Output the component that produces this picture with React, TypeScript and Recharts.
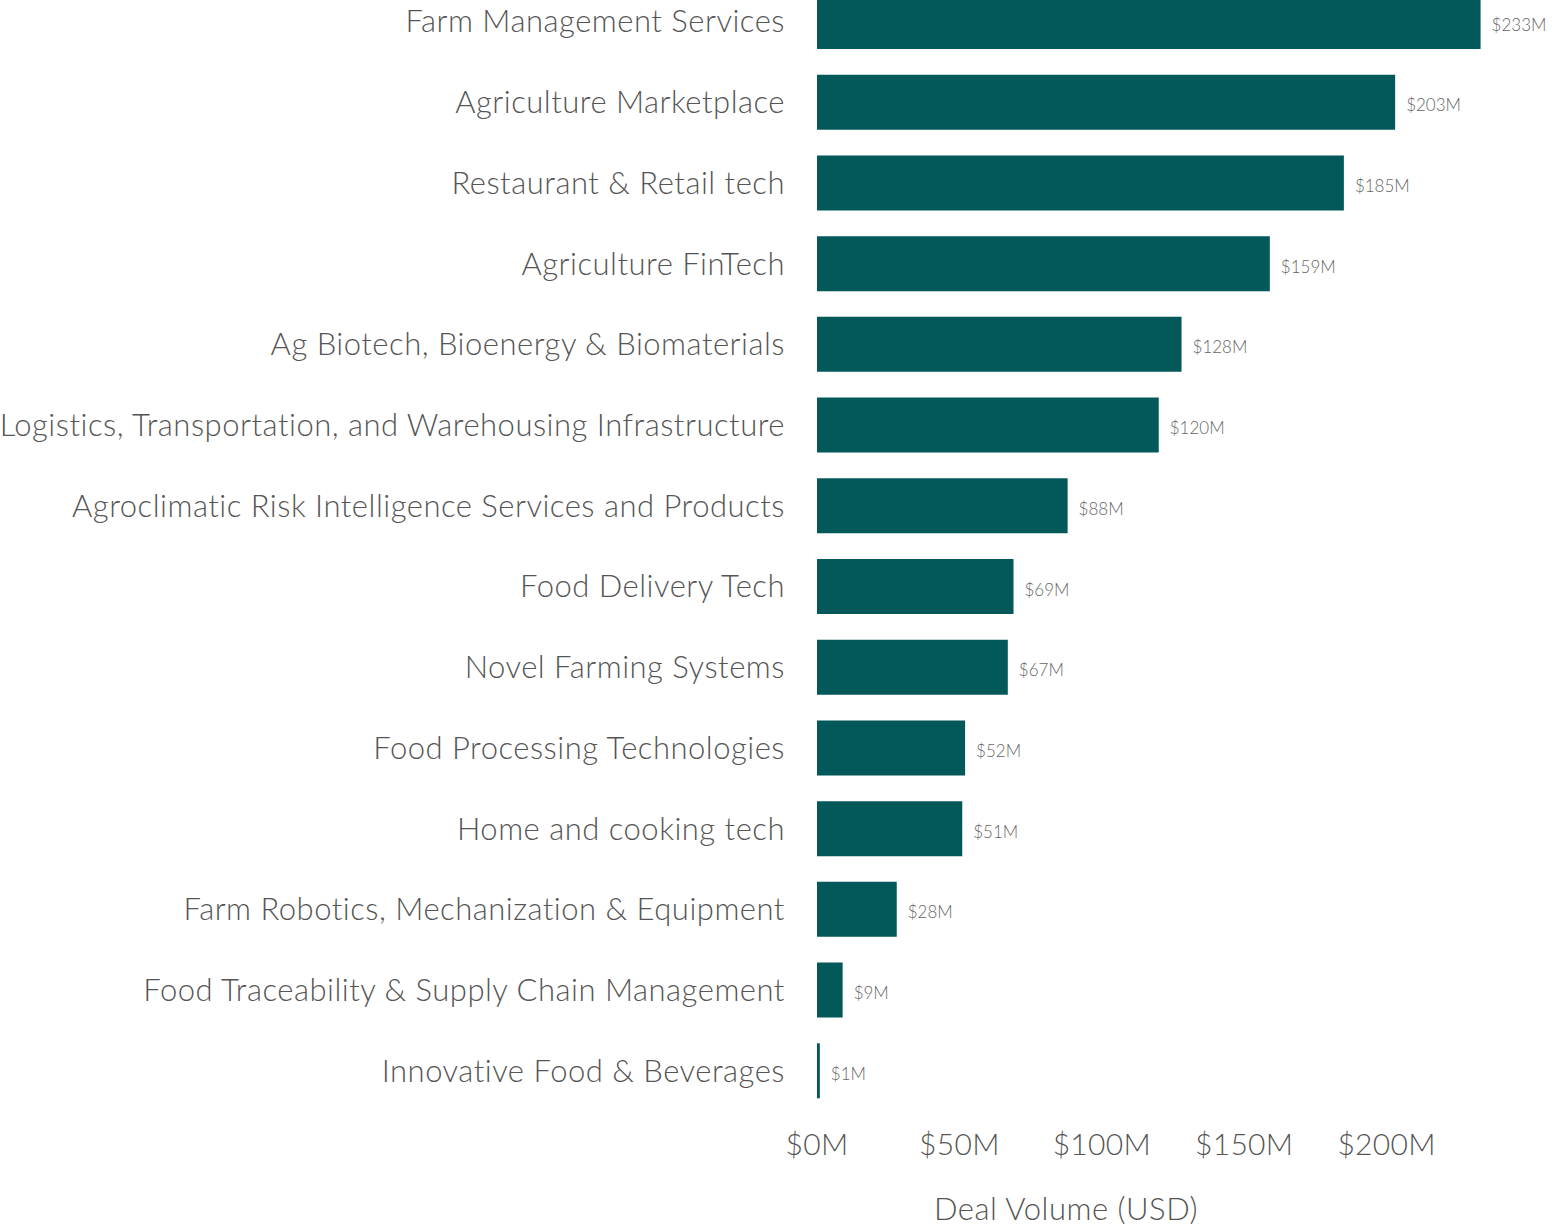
import { Bar, BarChart, LabelList, XAxis, YAxis } from 'recharts';

const categories = [
  'Farm Management Services',
  'Agriculture Marketplace',
  'Restaurant & Retail tech',
  'Agriculture FinTech',
  'Ag Biotech, Bioenergy & Biomaterials',
  'Logistics, Transportation, and Warehousing Infrastructure',
  'Agroclimatic Risk Intelligence Services and Products',
  'Food Delivery Tech',
  'Novel Farming Systems',
  'Food Processing Technologies',
  'Home and cooking tech',
  'Farm Robotics, Mechanization & Equipment',
  'Food Traceability & Supply Chain Management',
  'Innovative Food & Beverages',
];

// deal volume, $M
const dealVolume = [233, 203, 185, 159, 128, 120, 88, 69, 67, 52, 51, 28, 9, 1];

const xTicks = [0, 50, 100, 150, 200];

const COLOR = {
  bar: '#03585a',
  text: '#555555',
  value: '#666666',
} as const;

const FONT = 'Lato, "Open Sans", sans-serif';

const data = categories.map((name, i) => ({ name, value: dealVolume[i] }));

export default function App() {
  return (
    <div
      style={{
        position: 'absolute',
        left: 0,
        top: 0,
        width: 1560,
        height: 1230,
        overflow: 'hidden',
        background: '#fff',
      }}
    >
      <div style={{ position: 'absolute', left: 0, top: -19 }}>
        <BarChart
          width={1560}
          height={1250}
          data={data}
          layout="vertical"
          margin={{ top: 0, right: 31, bottom: 0, left: 0 }}
        >
          <XAxis
            type="number"
            domain={[0, 250]}
            ticks={xTicks}
            tickFormatter={(v: number) => `$${v}M`}
            axisLine={false}
            tickLine={false}
            tickSize={0}
            tickMargin={23}
            height={120}
            tick={{ fill: COLOR.text, fontSize: 30, fontFamily: FONT, fontWeight: 300, letterSpacing: 0.3 }}
            label={{
              value: 'Deal Volume (USD)',
              position: 'insideBottom',
              offset: 11,
              dx: -107,
              fill: COLOR.text,
              fontSize: 31,
              fontFamily: FONT,
              fontWeight: 300,
              letterSpacing: 0.5,
            }}
          />
          <YAxis
            type="category"
            dataKey="name"
            width={817}
            axisLine={false}
            tickLine={false}
            tickSize={0}
            tickMargin={32}
            interval={0}
            tick={{ fill: COLOR.text, fontSize: 31, fontFamily: FONT, fontWeight: 300, letterSpacing: 0.5 }}
          />
          <Bar dataKey="value" fill={COLOR.bar} barSize={55} isAnimationActive={false}>
            <LabelList
              dataKey="value"
              position="right"
              offset={11}
              dy={3}
              formatter={(v: number) => `$${v}M`}
              fill={COLOR.value}
              fontSize={17}
              fontFamily={FONT}
              fontWeight={300}
            />
          </Bar>
        </BarChart>
      </div>
    </div>
  );
}
